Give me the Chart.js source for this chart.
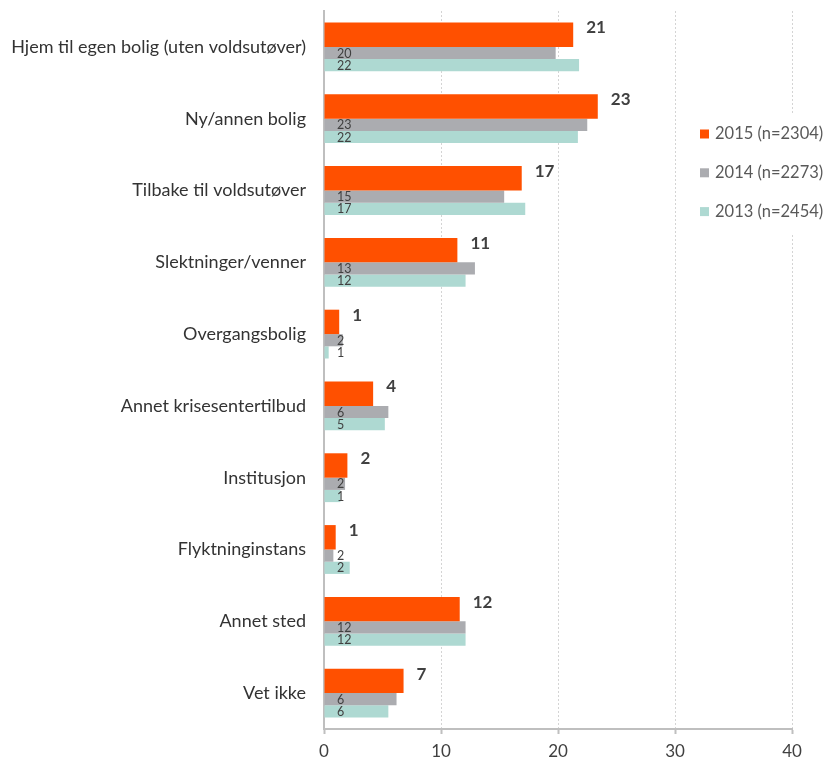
<!DOCTYPE html>
<html>
<head>
<meta charset="utf-8">
<script src="https://cdn.jsdelivr.net/npm/chart.js@4"></script>
<style>
  html, body { margin: 0; padding: 0; background: #fff; }
</style>
</head>
<body>
<canvas id="myChart" width="830" height="757"></canvas>
<script>
const categories = [
  "Hjem til egen bolig (uten voldsutøver)",
  "Ny/annen bolig",
  "Tilbake til voldsutøver",
  "Slektninger/venner",
  "Overgangsbolig",
  "Annet krisesentertilbud",
  "Institusjon",
  "Flyktninginstans",
  "Annet sted",
  "Vet ikke"
];
const seriesNames = ["2015 (n=2304)", "2014 (n=2273)", "2013 (n=2454)"];
const values2015 = [21.3, 23.4, 16.9, 11.4, 1.3, 4.2, 2.0, 1.0, 11.6, 6.8];
const values2014 = [19.8, 22.5, 15.4, 12.9, 1.6, 5.5, 1.8, 0.8, 12.1, 6.2];
const values2013 = [21.8, 21.7, 17.2, 12.1, 0.4, 5.2, 1.4, 2.2, 12.1, 5.5];
// labels as printed in the original (rounded figures)
const labels2015 = [21, 23, 17, 11, 1, 4, 2, 1, 12, 7];
const labels2014 = [20, 23, 15, 13, 2, 6, 2, 2, 12, 6];
const labels2013 = [22, 22, 17, 12, 1, 5, 1, 2, 12, 6];
const xTicks = [0, 10, 20, 30, 40];

const colors = ["#ff5000", "#abacb0", "#aed9d2"];
const textColor = "#404040";

// draws the value labels next to / inside the bars
const barLabels = {
  id: 'barLabels',
  afterDatasetsDraw(chart) {
    const ctx = chart.ctx;
    const all = [labels2015, labels2014, labels2013];
    ctx.save();
    ctx.fillStyle = textColor;
    chart.data.datasets.forEach((ds, i) => {
      const meta = chart.getDatasetMeta(i);
      meta.data.forEach((bar, j) => {
        if (i === 0) {
          ctx.font = "bold 17px Lato";
          ctx.textAlign = "left";
          ctx.textBaseline = "top";
          ctx.fillText(all[i][j], bar.x + 13, bar.y - bar.height / 2 - 3);
        } else {
          ctx.font = "12.5px Lato";
          ctx.textAlign = "left";
          ctx.textBaseline = "middle";
          ctx.fillText(all[i][j], chart.chartArea.left + 13, bar.y + 0.5);
        }
      });
    });
    ctx.restore();
  }
};

// legend drawn on top of the plot area with a white box
const boxLegend = {
  id: 'boxLegend',
  afterDraw(chart) {
    const ctx = chart.ctx;
    ctx.save();
    ctx.fillStyle = "#fff";
    ctx.fillRect(690, 115, 140, 118);
    ctx.font = "16.5px Lato";
    ctx.textAlign = "left";
    ctx.textBaseline = "middle";
    seriesNames.forEach((name, i) => {
      const y = 134 + i * 38.8;
      ctx.fillStyle = colors[i];
      ctx.fillRect(700, y - 4.5, 9, 9);
      ctx.fillStyle = "#595959";
      ctx.fillText(name, 715, y);
    });
    ctx.restore();
  }
};

new Chart("myChart", {
  type: "bar",
  data: {
    labels: categories,
    datasets: [
      { label: seriesNames[0], data: values2015, backgroundColor: colors[0],
        stack: "a", categoryPercentage: 0.68, barPercentage: 1 },
      { label: seriesNames[1], data: values2014, backgroundColor: colors[1],
        stack: "b", categoryPercentage: 0.34, barPercentage: 1 },
      { label: seriesNames[2], data: values2013, backgroundColor: colors[2],
        stack: "b", categoryPercentage: 1.02, barPercentage: 1 / 3 }
    ]
  },
  options: {
    indexAxis: "y",
    responsive: false,
    animation: false,
    events: [],
    layout: { padding: { top: 11, right: 38, left: 0, bottom: 0 } },
    plugins: {
      legend: { display: false },
      tooltip: { enabled: false },
      title: { display: false }
    },
    scales: {
      x: {
        stacked: false,
        min: 0,
        max: 40,
        afterBuildTicks(scale) {
          scale.ticks = xTicks.map(v => ({ value: v }));
        },
        afterFit(scale) {
          scale.height = 28;
          scale.paddingLeft = 0;
          scale.paddingRight = 0;
        },
        grid: {
          color: "#d4d4d4",
          lineWidth: 1,
          drawTicks: true,
          tickLength: 5,
          tickColor: "#bfbfbf",
          tickWidth: 2
        },
        border: { display: true, color: "#bfbfbf", width: 2, dash: [2, 2] },
        ticks: {
          padding: 7,
          color: textColor,
          font: { family: "Lato", size: 17 }
        }
      },
      y: {
        afterFit(scale) {
          scale.width = 324;
          scale.paddingTop = 0;
          scale.paddingBottom = 0;
        },
        grid: { display: false, drawTicks: false },
        border: { display: true, color: "#bfbfbf", width: 2 },
        ticks: {
          padding: 18,
          color: "#333333",
          font: { family: "Lato", size: 18 }
        }
      }
    }
  },
  plugins: [barLabels, boxLegend]
});
</script>
</body>
</html>
